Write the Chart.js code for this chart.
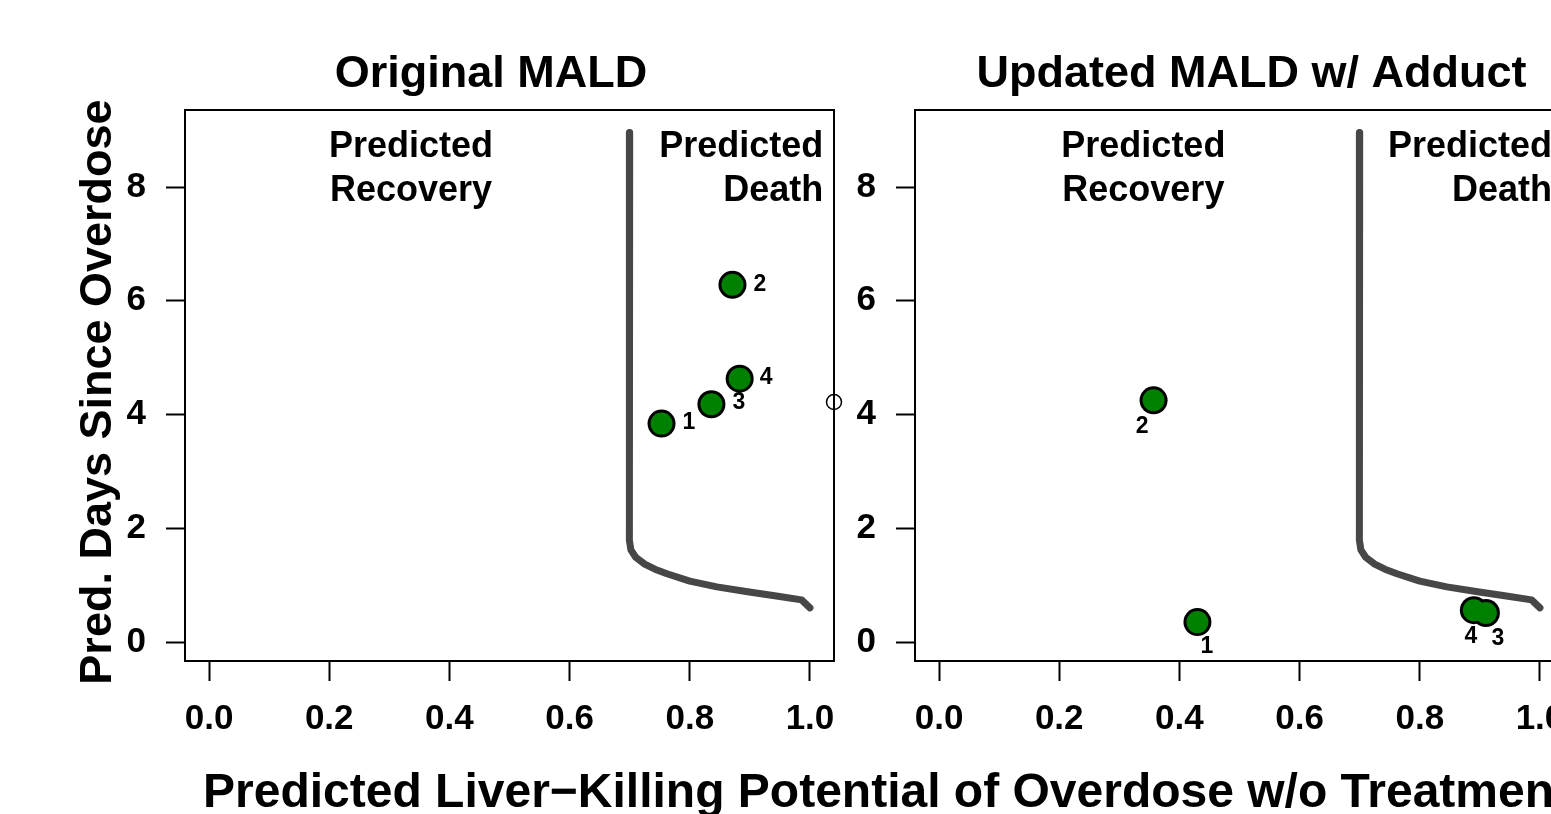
<!DOCTYPE html>
<html>
<head>
<meta charset="utf-8">
<script src="https://cdn.jsdelivr.net/npm/chart.js@4.4.1/dist/chart.umd.min.js"></script>
<style>
  html, body { margin: 0; padding: 0; background: #fff; overflow: hidden; }
  #wrap { position: relative; width: 1551px; height: 814px; overflow: hidden; }
  canvas { position: absolute; top: 0; }
</style>
</head>
<body>
<div id="wrap">
  <canvas id="origChart" width="1551" height="814" style="left:0"></canvas>
  <canvas id="updChart" width="880" height="814" style="left:730px"></canvas>
</div>
<script>
// decision boundary (same in both panels)
var boundaryX = [0.70, 0.70, 0.699, 0.702, 0.710, 0.725, 0.742, 0.762, 0.800, 0.845, 0.899, 0.944, 0.986, 1.0];
var boundaryY = [8.96, 1.90, 1.79, 1.62, 1.49, 1.37, 1.28, 1.20, 1.07, 0.97, 0.88, 0.81, 0.74, 0.60];

// cases
var caseIds = ["1", "2", "3", "4"];
var origX = [0.753, 0.871, 0.836, 0.883];
var origY = [3.84, 6.28, 4.18, 4.63];
var updX = [0.430, 0.357, 0.910, 0.890];
var updY = [0.35, 4.25, 0.51, 0.56];

// stray open symbol at the edge of the first panel
var strayX = [1.04];
var strayY = [4.22];

var xTicks = [0, 0.2, 0.4, 0.6, 0.8, 1.0];
var yTicks = [0, 2, 4, 6, 8];

var FONT = "'Liberation Sans', Arial, Helvetica, sans-serif";

function pts(xs, ys) {
  return xs.map(function (v, i) { return { x: v, y: ys[i] }; });
}

// text drawn over a panel; positions either in data units (x, y) or pixels (px, py)
var panelText = {
  id: "panelText",
  afterDraw: function (chart, args, opts) {
    var ctx = chart.ctx;
    var sx = chart.scales.x, sy = chart.scales.y;
    ctx.save();
    ctx.fillStyle = "#000";
    (opts.items || []).forEach(function (it) {
      ctx.font = it.font;
      ctx.textAlign = it.align || "center";
      ctx.textBaseline = it.baseline || "alphabetic";
      var px = it.px != null ? it.px : sx.getPixelForValue(it.x) + (it.dx || 0);
      var py = it.py != null ? it.py : sy.getPixelForValue(it.y) + (it.dy || 0);
      ctx.save();
      ctx.translate(px, py);
      if (it.rotate) ctx.rotate(it.rotate);
      it.lines.forEach(function (ln, i) {
        ctx.fillText(ln, 0, i * (it.gap || 0));
      });
      ctx.restore();
    });
    ctx.restore();
  }
};

var boxPlugin = {
  id: "box",
  afterDatasetsDraw: function (chart) {
    var a = chart.chartArea, ctx = chart.ctx;
    ctx.save();
    ctx.strokeStyle = "#000";
    ctx.lineWidth = 2;
    ctx.strokeRect(a.left, a.top, a.right - a.left, a.bottom - a.top);
    ctx.restore();
  }
};

function labelItems(xs, ys, offs, align, baseline) {
  return caseIds.map(function (id, i) {
    return {
      lines: [id], x: xs[i], y: ys[i], dx: offs[i][0], dy: offs[i][1],
      align: align, baseline: baseline, font: "bold 23px " + FONT
    };
  });
}

function makePanel(canvasId, xs, ys, extra, texts, padRight) {
  var datasets = [
    {
      data: pts(xs, ys), pointRadius: 11, pointHoverRadius: 11,
      pointBackgroundColor: "#008000", pointBorderWidth: 0, order: 0
    },
    {
      data: pts(xs, ys), pointRadius: 14, pointHoverRadius: 14,
      pointBackgroundColor: "#000", pointBorderWidth: 0, order: 1
    },
    {
      data: pts(boundaryX, boundaryY), showLine: true, pointRadius: 0,
      borderColor: "#474747", borderWidth: 7, borderCapStyle: "round",
      borderJoinStyle: "round", tension: 0, order: 2
    }
  ];
  if (extra) datasets.push(extra);

  return new Chart(document.getElementById(canvasId).getContext("2d"), {
    type: "scatter",
    data: { datasets: datasets },
    options: {
      responsive: false,
      animation: false,
      events: [],
      layout: { padding: { left: 0, top: 110, right: padRight, bottom: 0 } },
      plugins: {
        legend: { display: false },
        tooltip: { enabled: false },
        panelText: { items: texts }
      },
      scales: {
        x: {
          type: "linear", min: -0.04, max: 1.04,
          afterBuildTicks: function (s) { s.ticks = xTicks.map(function (v) { return { value: v }; }); },
          afterFit: function (s) { s.height = 153; s.paddingLeft = 0; s.paddingRight = 0; },
          ticks: {
            color: "#000", padding: 17, maxRotation: 0, autoSkip: false,
            font: { family: FONT, size: 35, weight: "bold" },
            callback: function (v) { return Number(v).toFixed(1); }
          },
          grid: { drawOnChartArea: false, drawTicks: true, tickLength: 20, tickWidth: 2, tickColor: "#000" },
          border: { display: true, color: "#000", width: 2 }
        },
        y: {
          type: "linear", min: -0.334, max: 9.354,
          afterBuildTicks: function (s) { s.ticks = yTicks.map(function (v) { return { value: v }; }); },
          afterFit: function (s) { s.width = 185; s.paddingTop = 0; s.paddingBottom = 0; },
          ticks: {
            color: "#000", padding: 20, autoSkip: false,
            font: { family: FONT, size: 35, weight: "bold" }
          },
          grid: { drawOnChartArea: false, drawTicks: true, tickLength: 19, tickWidth: 2, tickColor: "#000" },
          border: { display: true, color: "#000", width: 2 }
        }
      }
    },
    plugins: [boxPlugin, panelText]
  });
}

// Original MALD
var origTexts = [
  { lines: ["Original MALD"], px: 491, py: 87, font: "bold 45px " + FONT },
  { lines: ["Pred. Days Since Overdose"], px: 111, py: 392, rotate: -Math.PI / 2, font: "bold 45px " + FONT },
  { lines: ["Predicted Liver\u2212Killing Potential of Overdose w/o Treatment"], px: 203, py: 807, align: "left", font: "bold 48px " + FONT },
  { lines: ["Predicted", "Recovery"], x: 0.336, y: 8.527, gap: 44, font: "bold 36px " + FONT },
  { lines: ["Predicted", "Death"], x: 1.022, y: 8.527, gap: 44, align: "right", font: "bold 36px " + FONT }
].concat(labelItems(origX, origY, [[21, -1], [21, 0], [21, -2], [20, -1]], "left", "middle"));

var stray = {
  data: pts(strayX, strayY), pointRadius: 7.5, pointHoverRadius: 7.5,
  pointBackgroundColor: "rgba(255,255,255,0)", pointBorderColor: "#000",
  pointBorderWidth: 1.5, clip: false, order: 3
};

var origChart = makePanel("origChart", origX, origY, stray, origTexts, 1551 - 834);

// Updated MALD w/ Adduct
var updTexts = [
  { lines: ["Updated MALD w/ Adduct"], px: 521.5, py: 87, font: "bold 45px " + FONT },
  { lines: ["Predicted", "Recovery"], x: 0.34, y: 8.527, gap: 44, font: "bold 36px " + FONT },
  { lines: ["Predicted", "Death"], x: 1.02, y: 8.527, gap: 44, align: "right", font: "bold 36px " + FONT }
].concat(labelItems(updX, updY, [[9.5, 25], [-11.5, 26], [12, 26], [-3, 27]], "center", "middle"));

var updChart = makePanel("updChart", updX, updY, null, updTexts, 880 - 834);
</script>
</body>
</html>
